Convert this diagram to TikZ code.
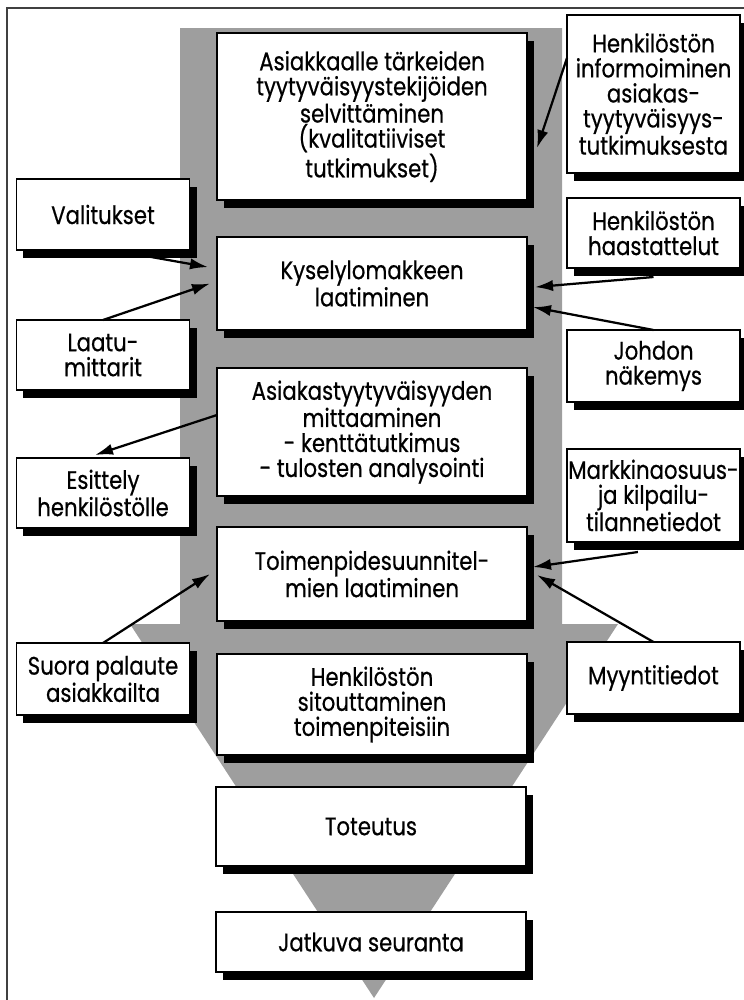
\documentclass[tikz,border=0pt]{standalone}
\usepackage{fontspec}
\setmainfont{Poppins}[FakeStretch=0.84,FakeBold=0.5]
\usetikzlibrary{arrows.meta}
\usetikzlibrary{backgrounds}
\tikzstyle{every picture}=[x=0.25mm,y=-0.25mm]
\tikzstyle{laatikko}=[rectangle, draw, fill=white, line width=1.3pt,
                      inner sep=0pt, outer sep=0pt, align=center,
                      font=\fontsize{18}{17.8}\selectfont]
\tikzstyle{vaihe}=[laatikko, minimum width=77.5mm]
\tikzstyle{sivu}=[laatikko, minimum width=43.25mm]
\tikzset{>={Latex[length=4.5mm,width=2.8mm]}}

\begin{document}
\begin{tikzpicture}
  \useasboundingbox (0,0) rectangle (744,1000);
  \draw[line width=0.8pt, black!75] (7,1000) -- (7,8) -- (744,8);

  \node[vaihe, minimum height=41.75mm] (kartoitus) at (372,116.5)
    {Asiakkaalle tärkeiden\\tyytyväisyystekijöiden\\selvittäminen\\(kvalitatiiviset\\tutkimukset)};
  \node[vaihe, minimum height=23.25mm] (lomake) at (372,283.5)
    {Kyselylomakkeen\\laatiminen};
  \node[vaihe, minimum height=32mm] (mittaus) at (372,432)
    {Asiakastyytyväisyyden\\mittaaminen\\- kenttätutkimus\\- tulosten analysointi};
  \node[vaihe, minimum height=23.5mm] (suunnitelma) at (372,574)
    {Toimenpidesuunnitel-\\mien laatiminen};
  \node[vaihe, minimum height=25.25mm] (sitoutus) at (372,704.5)
    {Henkilöstön\\sitouttaminen\\toimenpiteisiin};
  \node[vaihe, minimum height=19.75mm] (toteutus) at (371,826.5) {Toteutus};
  \node[vaihe, minimum height=15mm] (seuranta) at (371,942) {Jatkuva seuranta};

  \node[sivu, minimum height=39.5mm] (informointi) at (653.5,94)
    {Henkilöstön\\informoiminen\\asiakas-\\tyytyväisyys-\\tutkimuksesta};
  \node[sivu, minimum height=17.5mm] (haastattelut) at (653.5,233)
    {Henkilöstön\\haastattelut};
  \node[sivu, minimum height=18mm] (johto) at (653.5,366) {Johdon\\näkemys};
  \node[sivu, minimum height=23.25mm] (markkinat) at (653.5,495.5)
    {Markkinaosuus-\\ja kilpailu-\\tilannetiedot};
  \node[sivu, minimum height=18mm] (myynti) at (653.5,678) {Myyntitiedot};

  \node[sivu, minimum height=17.75mm] (valitukset) at (103,214.5) {Valitukset};
  \node[sivu, minimum height=17.5mm] (laatu) at (103,355) {Laatu-\\mittarit};
  \node[sivu, minimum height=17.5mm] (esittely) at (103,493) {Esittely\\henkilöstölle};
  \node[sivu, minimum height=18mm] (suora) at (103,679) {Suora palaute\\asiakkailta};

  % harmaa nuoli ja varjot laatikoiden alle
  \begin{pgfonlayer}{background}
    \fill[black!38] (180,28) -- (562,28) -- (562,624) -- (618,624)
      -- (374,998) -- (130,624) -- (180,624) -- cycle;
    \fill[black] ([shift={(7,8)}]kartoitus.north west) rectangle ([shift={(7,8)}]kartoitus.south east);
    \fill[black] ([shift={(7,8)}]lomake.north west) rectangle ([shift={(7,8)}]lomake.south east);
    \fill[black] ([shift={(7,8)}]mittaus.north west) rectangle ([shift={(7,8)}]mittaus.south east);
    \fill[black] ([shift={(7,8)}]suunnitelma.north west) rectangle ([shift={(7,8)}]suunnitelma.south east);
    \fill[black] ([shift={(7,8)}]sitoutus.north west) rectangle ([shift={(7,8)}]sitoutus.south east);
    \fill[black] ([shift={(7,8)}]toteutus.north west) rectangle ([shift={(7,8)}]toteutus.south east);
    \fill[black] ([shift={(7,8)}]seuranta.north west) rectangle ([shift={(7,8)}]seuranta.south east);
    \fill[black] ([shift={(7,8)}]informointi.north west) rectangle ([shift={(7,8)}]informointi.south east);
    \fill[black] ([shift={(7,8)}]haastattelut.north west) rectangle ([shift={(7,8)}]haastattelut.south east);
    \fill[black] ([shift={(7,8)}]johto.north west) rectangle ([shift={(7,8)}]johto.south east);
    \fill[black] ([shift={(7,8)}]markkinat.north west) rectangle ([shift={(7,8)}]markkinat.south east);
    \fill[black] ([shift={(7,8)}]myynti.north west) rectangle ([shift={(7,8)}]myynti.south east);
    \fill[black] ([shift={(7,8)}]valitukset.north west) rectangle ([shift={(7,8)}]valitukset.south east);
    \fill[black] ([shift={(7,8)}]laatu.north west) rectangle ([shift={(7,8)}]laatu.south east);
    \fill[black] ([shift={(7,8)}]esittely.north west) rectangle ([shift={(7,8)}]esittely.south east);
    \fill[black] ([shift={(7,8)}]suora.north west) rectangle ([shift={(7,8)}]suora.south east);
  \end{pgfonlayer}

  \draw[->, line width=1.6pt] ([yshift=9mm]informointi.west) -- ([xshift=2.5mm,yshift=-7.9mm]kartoitus.east);
  \draw[->, line width=1.6pt] ([xshift=9.25mm,yshift=-1.25mm]valitukset.south) -- ([xshift=-2.25mm,yshift=4.1mm]lomake.west);
  \draw[->, line width=1.6pt] (laatu.north) -- ([xshift=-1.75mm]lomake.west);
  \draw[->, line width=1.6pt] ([yshift=-2.25mm]haastattelut.south) -- ([xshift=2mm,yshift=-0.9mm]lomake.east);
  \draw[->, line width=1.6pt] (johto.north) -- ([xshift=1.5mm,yshift=-5.9mm]lomake.east);
  \draw[->, line width=1.6pt] ([yshift=4.25mm]mittaus.west) -- ([xshift=-2mm,yshift=0.75mm]esittely.north);
  \draw[->, line width=1.6pt] ([xshift=-3.9mm,yshift=-2.5mm]markkinat.south) -- ([xshift=1.5mm,yshift=1.75mm]suunnitelma.east);
  \draw[->, line width=1.6pt] (myynti.north) -- ([xshift=2.5mm,yshift=-0.25mm]suunnitelma.east);
  \draw[->, line width=1.6pt] (suora.north) -- ([xshift=-1.75mm]suunnitelma.west);
\end{tikzpicture}
\end{document}
